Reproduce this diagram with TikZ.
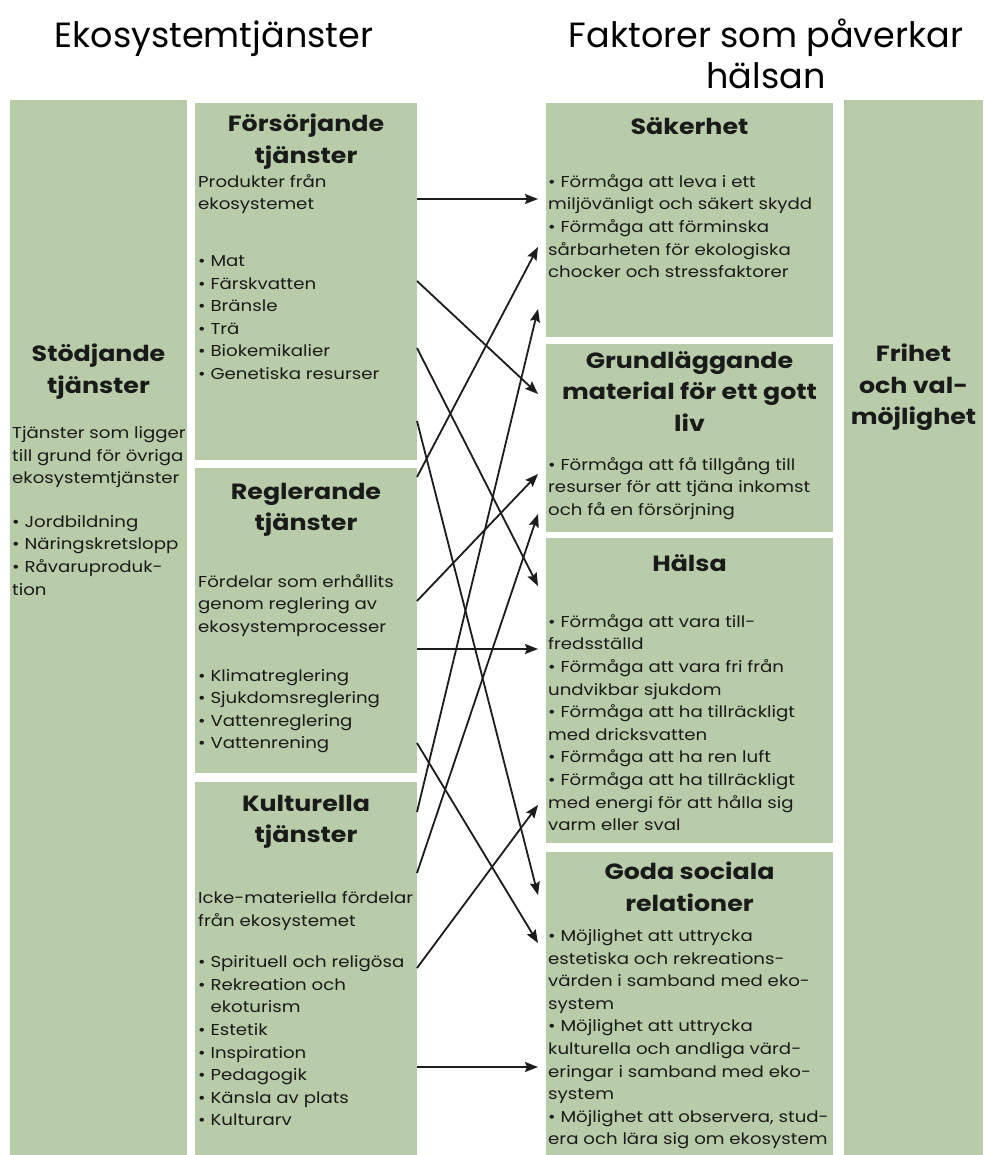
\documentclass[tikz,border=0pt]{standalone}
\usepackage{fontspec}
\setmainfont{Poppins}[FakeStretch=1.15]
\newfontfamily\titlefont{Poppins}
\usetikzlibrary{arrows.meta,calc}
\definecolor{ecogreen}{HTML}{B9CCAA}
\definecolor{ecotext}{HTML}{1A1A1A}
\definecolor{ecoarrow}{HTML}{1C1C1C}
\newcommand{\bodysize}{\fontsize{15.8}{22.6}\selectfont}
\newcommand{\headsize}{\fontsize{22}{31.5}\selectfont\bfseries}
\newcommand{\bp}{\textbullet~}
\tikzset{panel/.style={rectangle,fill=ecogreen,draw=none,inner sep=0pt,outer sep=0pt,anchor=north west},
 heading/.style={anchor=north,align=center,inner sep=0pt,font=\headsize,text=ecotext,
  yshift=22.05pt,execute at begin node=\strut},
 bodytext/.style={anchor=north west,align=left,inner sep=0pt,font=\bodysize,text=ecotext,
  yshift=15.82pt,execute at begin node=\strut},
 title/.style={anchor=north,align=center,inner sep=0pt,font=\titlefont\fontsize{35}{41}\selectfont,text=black,
  yshift=28.7pt,execute at begin node=\strut},
 link/.style={draw=ecoarrow,line width=1.8pt,-{Stealth[length=13pt,width=10pt,inset=2pt]}}}

\begin{document}
\begin{tikzpicture}[x=1pt,y=-1pt]
 \useasboundingbox[fill=white] (0,0) rectangle (983,1155);
 % titles
 \node[title] (ekotitle) at (214,47) {Ekosystemtjänster};
 \node[title] (halsotitle) at (766,47) {Faktorer som påverkar\\hälsan};
 % panels
 \node[panel,minimum width=177pt,minimum height=1055pt] (stod) at (10,100) {};
 \node[panel,minimum width=222pt,minimum height=357pt] (fors) at (195,103) {};
 \node[panel,minimum width=222pt,minimum height=305pt] (regl) at (195,468) {};
 \node[panel,minimum width=222pt,minimum height=373pt] (kult) at (195,782) {};
 \node[panel,minimum width=287pt,minimum height=234pt] (saker) at (546,103) {};
 \node[panel,minimum width=287pt,minimum height=188pt] (grund) at (546,344) {};
 \node[panel,minimum width=287pt,minimum height=305pt] (halsa) at (546,538) {};
 \node[panel,minimum width=287pt,minimum height=303pt] (goda) at (546,852) {};
 \node[panel,minimum width=139pt,minimum height=1055pt] (frihet) at (844,100) {};
 % supporting services
 \node[heading] (stodhead) at (98.5,366) {Stödjande\\tjänster};
 \node[bodytext] (stodtext) at (12,442) {Tjänster som ligger\\till grund för övriga\\ekosystemtjänster\\[21pt]
  \bp Jordbildning\\\bp Näringskretslopp\\\bp Råvaruproduk-\\tion};
 % provisioning services
 \node[heading] (forshead) at (306,136) {Försörjande\\tjänster};
 \node[bodytext] (forstext) at (198,190) {Produkter från\\ekosystemet\\[34pt]
  \bp Mat\\\bp Färskvatten\\\bp Bränsle\\\bp Trä\\\bp Biokemikalier\\\bp Genetiska resurser};
 % regulating services
 \node[heading] (reglhead) at (306,505) {Reglerande\\tjänster};
 \node[bodytext] (regltext) at (198,590) {Fördelar som erhållits\\genom reglering av\\ekosystemprocesser\\[26pt]
  \bp Klimatreglering\\\bp Sjukdomsreglering\\\bp Vattenreglering\\\bp Vattenrening};
 % cultural services
 \node[heading] (kulthead) at (306,817) {Kulturella\\tjänster};
 \node[bodytext] (kulttext) at (198,907) {Icke-materiella fördelar\\från ekosystemet\\[19pt]
  \bp Spirituell och religösa\\\bp Rekreation och\\\hphantom{\bp}ekoturism\\\bp Estetik\\\bp Inspiration\\
  \bp Pedagogik\\\bp Känsla av plats\\\bp Kulturarv};
 % health factors
 \node[heading] (sakerhead) at (689.5,134) {Säkerhet};
 \node[bodytext] (sakertext) at (548,190) {\bp Förmåga att leva i ett\\miljövänligt och säkert skydd\\
  \bp Förmåga att förminska\\sårbarheten för ekologiska\\chocker och stressfaktorer};
 \node[heading] (grundhead) at (689.5,373) {Grundläggande\\material för ett gott\\liv};
 \node[bodytext] (grundtext) at (548,473) {\bp Förmåga att få tillgång till\\resurser för att tjäna inkomst\\
  och få en försörjning};
 \node[heading] (halsahead) at (689.5,571) {Hälsa};
 \node[bodytext] (halsatext) at (548,630) {\bp Förmåga att vara till-\\fredsställd\\\bp Förmåga att vara fri från\\
  undvikbar sjukdom\\\bp Förmåga att ha tillräckligt\\med dricksvatten\\\bp Förmåga att ha ren luft\\
  \bp Förmåga att ha tillräckligt\\med energi för att hålla sig\\varm eller sval};
 \node[heading] (godahead) at (689.5,884) {Goda sociala\\relationer};
 \node[bodytext] (godatext) at (548,945) {\bp Möjlighet att uttrycka\\estetiska och rekreations-\\
  värden i samband med eko-\\system\\\bp Möjlighet att uttrycka\\kulturella och andliga värd-\\
  eringar i samband med eko-\\system\\\bp Möjlighet att observera, stud-\\era och lära sig om ekosystem};
 \node[heading] (frihethead) at (913.5,366) {Frihet\\och val-\\möjlighet};
 % links between services and health factors
 \foreach \src/\sy/\dst/\dy in {fors/199/saker/199,fors/281/grund/394,fors/348/halsa/586,fors/421/goda/895,
   regl/477/saker/247,regl/601/grund/474,regl/649/halsa/649,regl/743/goda/943,
   kult/812/saker/309,kult/873/grund/514,kult/968/halsa/805,kult/1067/goda/1067}
  \draw[link] (\src.east |- 0,\sy) -- ($(\dst.west |- 0,\dy)+(-8,0)$);
\end{tikzpicture}
\end{document}
